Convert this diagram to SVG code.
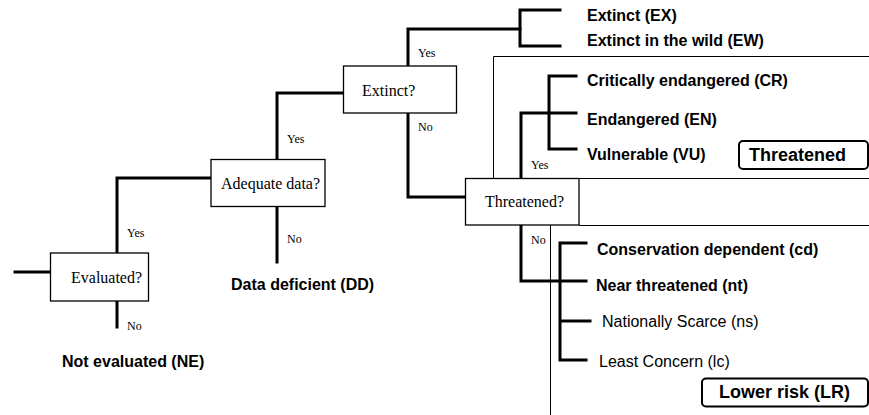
<svg xmlns="http://www.w3.org/2000/svg" width="869" height="415" viewBox="0 0 869 415">
<style>
.conn{fill:none;stroke:#000;stroke-width:3;stroke-linecap:square;stroke-linejoin:miter}
.frame{fill:none;stroke:#000;stroke-width:1}
.box{fill:#fff;stroke:#000;stroke-width:1.3}
.q{font-family:"Liberation Serif","Times New Roman",serif;font-size:16px;fill:#000}
.yn{font-family:"Liberation Serif","Times New Roman",serif;font-size:12px;fill:#000}
.b{font-family:"Liberation Sans",Arial,sans-serif;font-size:16px;font-weight:bold;fill:#000}
.n{font-family:"Liberation Sans",Arial,sans-serif;font-size:16px;fill:#000}
.grp{fill:#fff;stroke:#000;stroke-width:2}
.gt{font-family:"Liberation Sans",Arial,sans-serif;font-size:18px;font-weight:bold;fill:#000}
</style>
<g id="frames">
<path class="frame" d="M493.5,178.5 V56.5 H870"/>
<path class="frame" d="M579,178.5 H870"/>
<path class="frame" d="M579,225.5 H870"/>
<path class="frame" d="M550.5,225 V416"/>
</g>
<g id="connectors">
<path class="conn" d="M15,272 H50"/>
<path class="conn" d="M117,253 V178 H211"/>
<path class="conn" d="M117,301 V327"/>
<path class="conn" d="M277,159 V93 H343"/>
<path class="conn" d="M277,207 V262"/>
<path class="conn" d="M408,66 V29 H520"/>
<path class="conn" d="M560,10 H520 V46 H560"/>
<path class="conn" d="M408,113 V197 H465"/>
<path class="conn" d="M521,178 V113 H576"/>
<path class="conn" d="M576,76 H549 V149 H576"/>
<path class="conn" d="M521,225 V281 H586"/>
<path class="conn" d="M586,243 H560 V360 H586"/>
<path class="conn" d="M562,321 H590"/>
</g>
<g id="evaluated">
<rect class="box" x="50.5" y="253" width="98" height="48"/>
<text class="q" x="71" y="283">Evaluated?</text>
</g>
<g id="adequate">
<rect class="box" x="211" y="159.5" width="114" height="47"/>
<text class="q" x="221" y="189">Adequate data?</text>
</g>
<g id="extinct">
<rect class="box" x="343.5" y="66" width="113" height="47"/>
<text class="q" x="362" y="96">Extinct?</text>
</g>
<g id="threatened-q">
<rect class="box" x="465.5" y="178.5" width="113.5" height="46.5"/>
<text class="q" x="485" y="207">Threatened?</text>
</g>
<g id="labels">
<text class="yn" x="127" y="237">Yes</text>
<text class="yn" x="127" y="330">No</text>
<text class="yn" x="287" y="143">Yes</text>
<text class="yn" x="287" y="243">No</text>
<text class="yn" x="418" y="57">Yes</text>
<text class="yn" x="418" y="131">No</text>
<text class="yn" x="531" y="169">Yes</text>
<text class="yn" x="531" y="244">No</text>
</g>
<g id="ne"><text class="b" x="62" y="367">Not evaluated (NE)</text></g>
<g id="dd"><text class="b" x="231" y="290">Data deficient (DD)</text></g>
<g id="ex"><text class="b" x="587" y="21">Extinct (EX)</text></g>
<g id="ew"><text class="b" x="587" y="46">Extinct in the wild (EW)</text></g>
<g id="cr"><text class="b" x="587" y="86">Critically endangered (CR)</text></g>
<g id="en"><text class="b" x="587" y="125">Endangered (EN)</text></g>
<g id="vu"><text class="b" x="587" y="160">Vulnerable (VU)</text></g>
<g id="threatened-group">
<rect class="grp" x="739" y="141" width="129" height="28" rx="4"/>
<text class="gt" x="749" y="161">Threatened</text>
</g>
<g id="cd"><text class="b" x="597" y="255">Conservation dependent (cd)</text></g>
<g id="nt"><text class="b" x="596" y="291">Near threatened (nt)</text></g>
<g id="ns"><text class="n" x="602" y="327">Nationally Scarce (ns)</text></g>
<g id="lc"><text class="n" x="599" y="367">Least Concern (lc)</text></g>
<g id="lower-risk">
<rect class="grp" x="702" y="378.5" width="166" height="28" rx="4"/>
<text class="gt" x="719" y="398">Lower risk (LR)</text>
</g>
</svg>
